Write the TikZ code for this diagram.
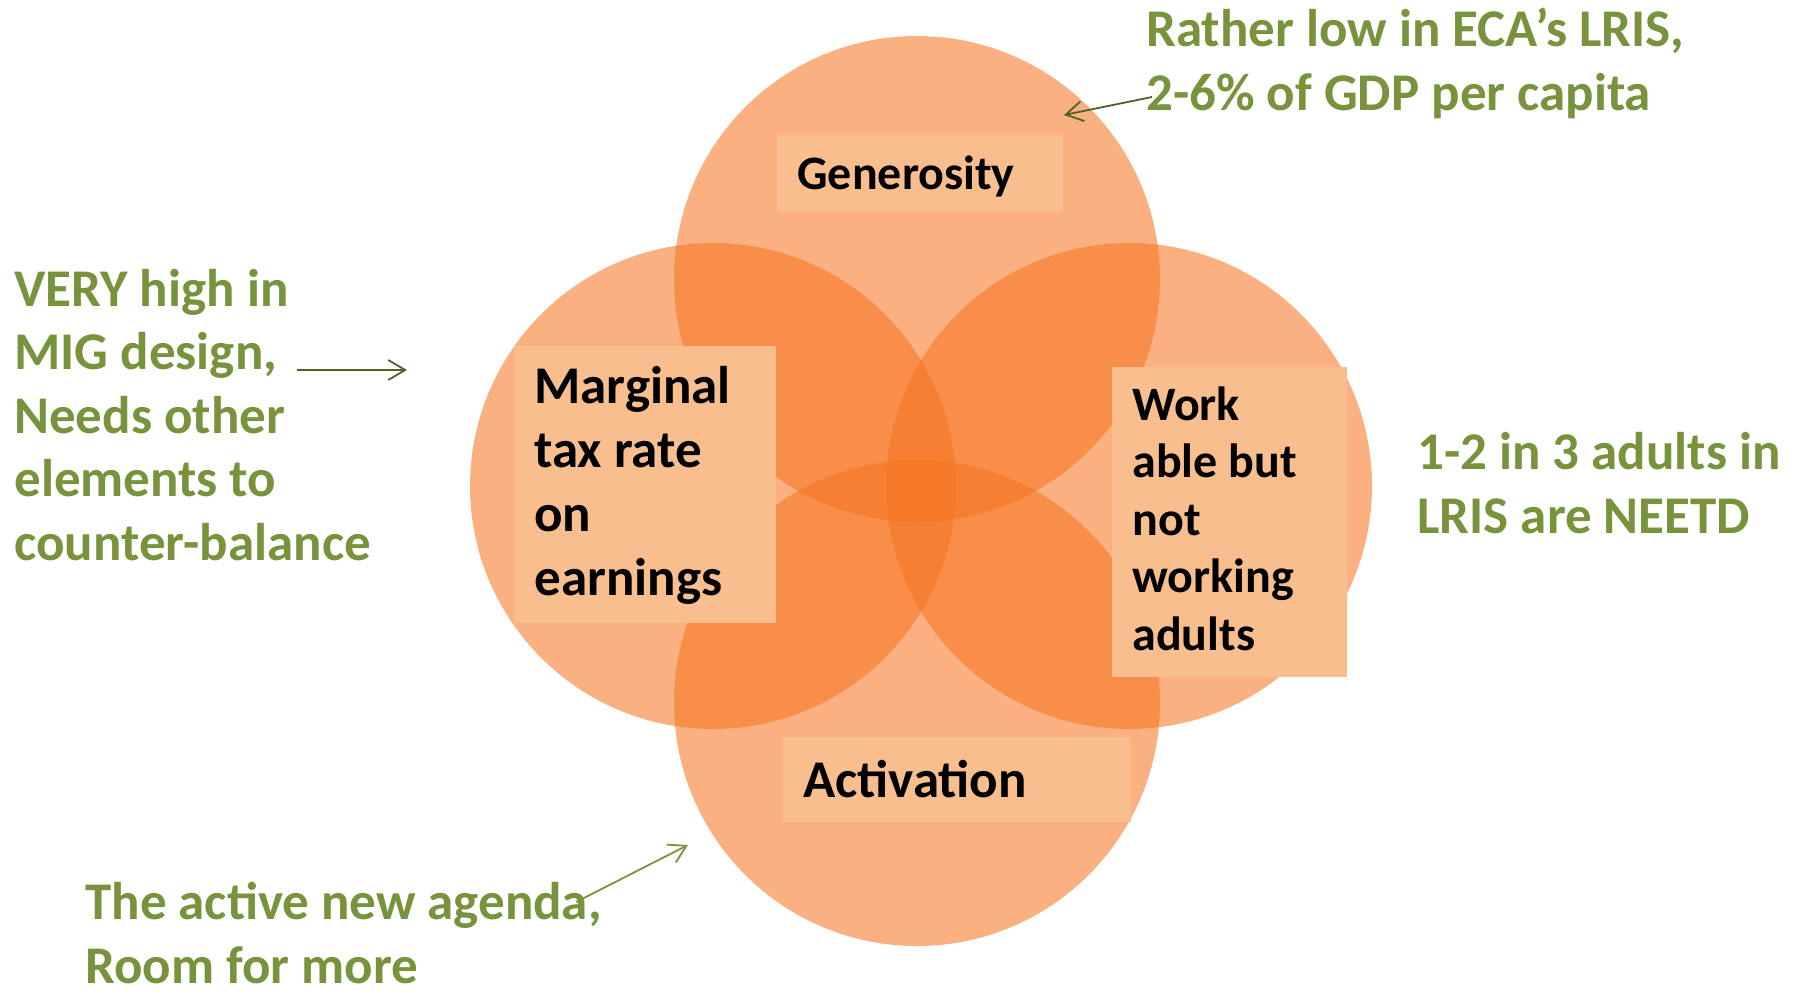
\documentclass[tikz,border=0pt]{standalone}
\usepackage{fontspec}
\setmainfont{Carlito}
\usetikzlibrary{arrows.meta}

\begin{document}
\begin{tikzpicture}[x=0.5pt,y=-0.5pt]
  \definecolor{kOrange}{RGB}{246,116,32}
  \definecolor{kBox}{RGB}{249,190,142}
  \definecolor{kGreen}{RGB}{119,147,60}
  \definecolor{kDark}{RGB}{79,98,40}
  \tikzset{
    note/.style={anchor=base west,inner sep=0,align=left,text=kGreen,font=\bfseries\fontsize{26.5}{31.75}\selectfont},
    boxtext/.style={anchor=base west,inner sep=0,align=left,font=\bfseries\fontsize{24}{28.75}\selectfont},
    boxtextbig/.style={boxtext,font=\bfseries\fontsize{26.5}{32}\selectfont},
    pointer/.style={-{Straight Barb[length=8.5pt,width=10pt]},line width=0.9pt}
  }
  \useasboundingbox (0,0) rectangle (1798,997);

  % the four circles
  \foreach \x/\y in { 917/279,713/486,1129/486,917/703 }
  {
    \fill[kOrange,fill opacity=0.57] (\x,\y) circle (243);
  }

  % boxes and their labels (base = last line)
  \fill[kBox] (777,135) rectangle (1063,212);
  \node[boxtext] (generosity) at (797,189) {Generosity};
  \fill[kBox] (514,346) rectangle (776,623);
  \node[boxtextbig] (marginal) at (534,595) {Marginal\\tax rate\\on\\earnings};
  \fill[kBox] (1112,367) rectangle (1347,677);
  \node[boxtext] (workable) at (1132,650) {Work\\able but\\not\\working\\adults};
  \fill[kBox] (783,737) rectangle (1131,822);
  \node[boxtextbig] (activation) at (803,797) {Activation};

  % notes
  \node[note] (costnote) at (1146,110) {Rather low in ECA’s LRIS,\\2-6\% of GDP per capita};
  \node[note] (designnote) at (14,560) {VERY high in\\MIG design,\\Needs other\\elements to\\counter-balance};
  \node[note] (neetnote) at (1417,533) {1-2 in 3 adults in\\LRIS are NEETD};
  \node[note] (agendanote) at (85,983) {The active new agenda,\\Room for more};

  \coordinate (costfrom) at (1152,97);
  \coordinate (costto) at (1064,115);
  \coordinate (designfrom) at (297,370);
  \coordinate (designto) at (407,370);
  \coordinate (agendafrom) at (576,902);
  \coordinate (agendato) at (688,845);
  \draw[pointer,kDark] (costfrom) -- (costto);
  \draw[pointer,kDark] (designfrom) -- (designto);
  \draw[pointer,kGreen] (agendafrom) -- (agendato);
\end{tikzpicture}
\end{document}
